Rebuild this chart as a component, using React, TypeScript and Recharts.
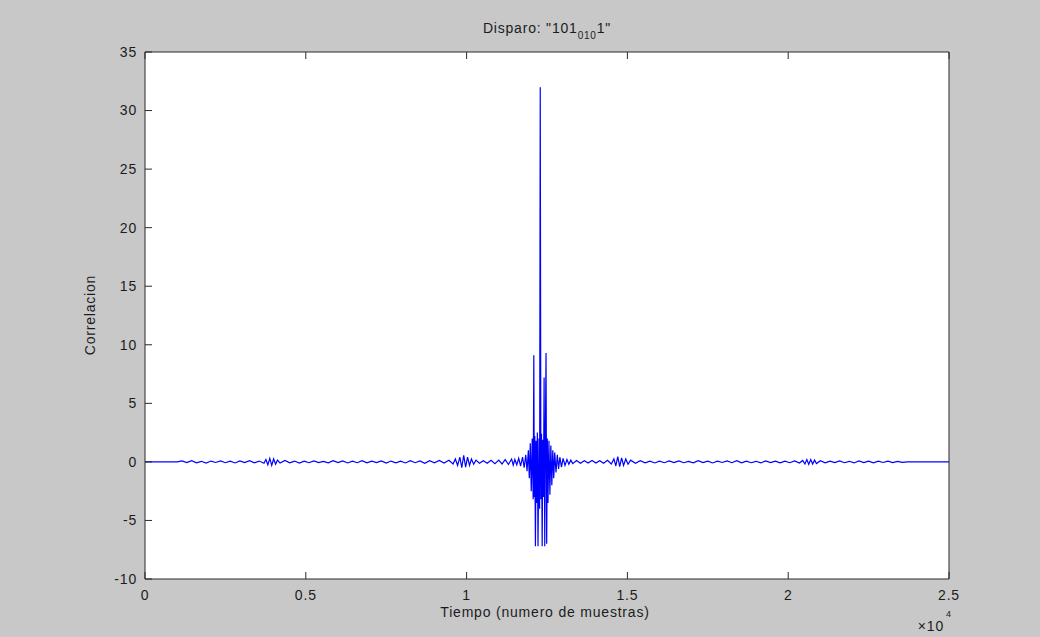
import { LineChart, Line, XAxis, YAxis, CartesianGrid } from "recharts";

const FONT = '"Liberation Sans", Arial, sans-serif';
const INK = "#1c1c1c";
const BOX = "#2a2a2a";
const TICK_GAP = 10;
const TICK_LEN = 7;

const xTicks = [0, 5000, 10000, 15000, 20000, 25000];
const xTickLabels = ["0", "0.5", "1", "1.5", "2", "2.5"];
const yTicks = [-10, -5, 0, 5, 10, 15, 20, 25, 30, 35];

// [sample, correlation], segment by segment
const flatStart = [[0, 0], [1000, 0]];
const quiet1 = [
  [1150, 0.08], [1300, -0.06], [1450, 0.1], [1600, -0.08], [1750, 0.05], [1900, -0.1],
  [2050, 0.07], [2200, -0.05], [2350, 0.09], [2500, -0.07], [2650, 0.06], [2800, -0.09],
  [2950, 0.08], [3100, -0.06], [3250, 0.1], [3400, -0.08], [3550, 0.07], [3700, -0.12],
];
const burst4k = [
  [3760, 0.2], [3820, -0.25], [3880, 0.3], [3940, -0.3], [4000, 0.25], [4060, -0.2], [4120, 0.15],
];
const quiet2 = [
  [4200, -0.1], [4350, 0.12], [4500, -0.08], [4650, 0.07], [4800, -0.1], [4950, 0.06],
  [5100, -0.07], [5250, 0.09], [5400, -0.06], [5550, 0.05], [5700, -0.08], [5850, 0.1],
  [6000, -0.06], [6150, 0.08], [6300, -0.09], [6450, 0.06], [6600, -0.07], [6750, 0.1],
  [6900, -0.08], [7050, 0.07], [7200, -0.06], [7350, 0.09], [7500, -0.1], [7650, 0.07],
  [7800, -0.08], [7950, 0.06], [8100, -0.09], [8250, 0.1], [8400, -0.07], [8550, 0.08],
  [8700, -0.12], [8850, 0.1], [9000, -0.08], [9150, 0.12], [9300, -0.1], [9450, 0.14],
];
const burst10k = [
  [9580, -0.18], [9650, 0.25], [9720, -0.3], [9790, 0.4], [9850, -0.5], [9910, 0.55],
  [9970, -0.45], [10030, 0.4], [10090, -0.3], [10150, 0.25], [10220, -0.2], [10290, 0.15],
];
const quiet3 = [
  [10400, -0.12], [10520, 0.1], [10640, -0.12], [10760, 0.13], [10880, -0.15], [11000, 0.15],
  [11100, -0.18], [11200, 0.2], [11300, -0.22], [11400, 0.25], [11450, -0.28],
];
const mainBurst = [
  [11500, 0.2], [11560, -0.25], [11620, 0.3], [11680, -0.35], [11740, 0.4], [11790, -0.5],
  [11840, 0.6], [11880, -0.8], [11920, 1.0], [11950, -1.4], [11980, 1.6], [12010, -2.5],
  [12040, 2.0], [12070, -3.2], [12090, 9.1], [12105, -3.0], [12120, 2.2], [12140, -7.2],
  [12160, 1.8], [12180, -3.5], [12200, 2.5], [12220, -7.2], [12250, 2.0], [12270, -4.0],
  [12290, 32.0], [12310, -3.2], [12330, 2.4], [12350, -7.2], [12370, 1.9], [12390, -3.0],
  [12410, 7.2], [12430, -7.2], [12450, 2.2], [12470, 9.3], [12490, -7.0], [12510, 2.0],
  [12530, -3.5], [12560, 1.8], [12590, -2.8], [12620, 1.4], [12650, -2.0], [12680, 1.0],
  [12710, -1.4], [12740, 0.8], [12780, -0.9], [12820, 0.6], [12860, -0.6], [12900, 0.4],
  [12950, -0.45], [13000, 0.3], [13060, -0.3], [13120, 0.2], [13180, -0.2], [13240, 0.15],
];
const quiet4 = [
  [13300, -0.15], [13420, 0.12], [13540, -0.12], [13660, 0.1], [13780, -0.1], [13900, 0.12],
  [14020, -0.1], [14140, 0.1], [14260, -0.12], [14380, 0.14], [14500, -0.18],
];
const burst15k = [
  [14580, 0.25], [14640, -0.35], [14700, 0.45], [14760, -0.4], [14820, 0.35], [14880, -0.3],
  [14950, 0.25], [15020, -0.2], [15100, 0.15],
];
const quiet5 = [
  [15250, -0.12], [15400, 0.1], [15550, -0.08], [15700, 0.07], [15850, -0.09], [16000, 0.06],
  [16150, -0.07], [16300, 0.08], [16450, -0.06], [16600, 0.09], [16750, -0.07], [16900, 0.05],
  [17050, -0.08], [17200, 0.1], [17350, -0.06], [17500, 0.07], [17650, -0.09], [17800, 0.06],
  [17950, -0.05], [18100, 0.08], [18250, -0.07], [18400, 0.1], [18550, -0.08], [18700, 0.06],
  [18850, -0.07], [19000, 0.05], [19150, -0.09], [19300, 0.08], [19450, -0.06], [19600, 0.07],
  [19750, -0.08], [19900, 0.06], [20050, -0.07], [20200, 0.09], [20350, -0.1], [20450, 0.12],
];
const burst21k = [
  [20520, -0.18], [20580, 0.2], [20640, -0.22], [20700, 0.2], [20760, -0.18], [20820, 0.15], [20880, -0.14],
];
const quiet6 = [
  [21000, 0.1], [21150, -0.08], [21300, 0.07], [21450, -0.06], [21600, 0.08], [21750, -0.07],
  [21900, 0.05], [22050, -0.09], [22200, 0.08], [22350, -0.06], [22500, 0.07], [22650, -0.08],
  [22800, 0.06], [22950, -0.05], [23100, 0.07], [23250, -0.06], [23400, 0.05], [23550, -0.04],
  [23700, 0],
];
const flatEnd = [[25000, 0]];

const points = [
  ...flatStart, ...quiet1, ...burst4k, ...quiet2, ...burst10k, ...quiet3, ...mainBurst,
  ...quiet4, ...burst15k, ...quiet5, ...burst21k, ...quiet6, ...flatEnd,
].map(([s, v]) => ({ s, v }));

const txt = { fontFamily: FONT, fontSize: 14, fill: INK, letterSpacing: 0.8 };

const BottomTick = (p: any) => {
  const axisY = p.y - TICK_GAP;
  const i = xTicks.indexOf(p.payload.value);
  return (
    <g>
      <line x1={p.x} x2={p.x} y1={axisY} y2={axisY - TICK_LEN} stroke={BOX} />
      <text x={p.x} y={axisY + 16} dy="0.35em" textAnchor="middle" {...txt}>
        {xTickLabels[i]}
      </text>
    </g>
  );
};

const TopTick = (p: any) => (
  <line x1={p.x} x2={p.x} y1={p.y} y2={p.y + TICK_LEN} stroke={BOX} />
);

const LeftTick = (p: any) => {
  const axisX = p.x + TICK_GAP;
  return (
    <g>
      <line x1={axisX} x2={axisX + TICK_LEN} y1={p.y} y2={p.y} stroke={BOX} />
      <text x={axisX - 8} y={p.y} dy="0.35em" textAnchor="end" {...txt}>
        {p.payload.value}
      </text>
    </g>
  );
};

const RightTick = (p: any) => (
  <line x1={p.x} x2={p.x - TICK_LEN} y1={p.y} y2={p.y} stroke={BOX} />
);

export default function App() {
  return (
    <div
      style={{
        position: "absolute",
        left: 0,
        top: 0,
        width: 1040,
        height: 637,
        background: "#c8c8c8",
      }}
    >
      <LineChart
        width={1040}
        height={637}
        data={points}
        margin={{ top: 51, right: 90, bottom: 57, left: 144 }}
      >
        <CartesianGrid horizontal={false} vertical={false} fill="#ffffff" />
        <XAxis
          dataKey="s"
          type="number"
          domain={[0, 25000]}
          ticks={xTicks}
          height={1}
          tickSize={0}
          tickMargin={TICK_GAP}
          tickLine={false}
          axisLine={{ stroke: BOX }}
          tick={BottomTick}
          interval={0}
        />
        <XAxis
          xAxisId="top"
          orientation="top"
          dataKey="s"
          type="number"
          domain={[0, 25000]}
          ticks={xTicks}
          height={1}
          tickSize={0}
          tickMargin={0}
          tickLine={false}
          axisLine={{ stroke: BOX }}
          tick={TopTick}
          interval={0}
        />
        <YAxis
          type="number"
          domain={[-10, 35]}
          ticks={yTicks}
          width={1}
          tickSize={0}
          tickMargin={TICK_GAP}
          tickLine={false}
          axisLine={{ stroke: BOX }}
          tick={LeftTick}
          interval={0}
        />
        <YAxis
          yAxisId="right"
          orientation="right"
          type="number"
          domain={[-10, 35]}
          ticks={yTicks}
          width={1}
          tickSize={0}
          tickMargin={0}
          tickLine={false}
          axisLine={{ stroke: BOX }}
          tick={RightTick}
          interval={0}
        />
        <Line
          type="linear"
          dataKey="v"
          stroke="#0000ff"
          strokeWidth={1.2}
          dot={false}
          isAnimationActive={false}
        />
      </LineChart>
      <svg
        width={1040}
        height={637}
        style={{ position: "absolute", left: 0, top: 0, pointerEvents: "none" }}
      >
        <text x={547} y={33} textAnchor="middle" {...txt}>
          Disparo: "101
          <tspan fontSize={10} dy={6}>010</tspan>
          <tspan dy={-6}>1"</tspan>
        </text>
        <text x={545} y={612} dy="0.35em" textAnchor="middle" {...txt}>
          Tiempo (numero de muestras)
        </text>
        <text x={944} y={626} dy="0.35em" textAnchor="end" {...txt}>
          ×10
        </text>
        <text x={946} y={617} fontFamily={FONT} fontSize={9} fill={INK}>
          4
        </text>
        <text
          x={90}
          y={315}
          dy="0.35em"
          textAnchor="middle"
          transform="rotate(-90 90 315)"
          {...txt}
        >
          Correlacion
        </text>
      </svg>
    </div>
  );
}
